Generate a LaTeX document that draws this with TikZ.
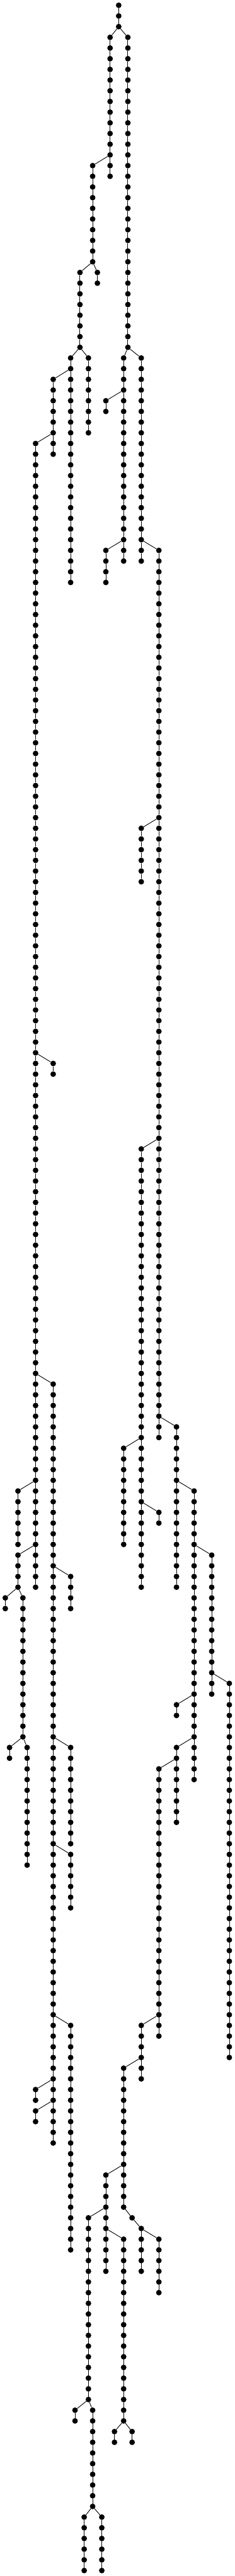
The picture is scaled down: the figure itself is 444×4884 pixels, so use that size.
\documentclass[tikz,border=0pt]{standalone}
\tikzset{
  dot/.style={circle,fill=black,draw=none,inner sep=0pt,minimum size=10.6pt},
  edge/.style={line width=1.1pt,black}
}
\newcommand\chainnodes[3]{%
  \foreach \r in {#2,...,#3}{%
    \node[dot] (n#1-\r) at ({#1/3},\r) {};
    \ifnum\r>#2\relax
      \pgfmathtruncatemacro\prevr{\r-1}%
      \draw[edge] (n#1-\prevr) -- (n#1-\r);
    \fi
  }}
\newcommand\linknodes[4]{\draw[edge] (n#1-#2) -- (n#3-#4);}
\begin{document}
\begin{tikzpicture}[x=1pt,y=-20.265pt]
\useasboundingbox (0pt,0pt) rectangle (444pt,-4884pt);
\begin{scope}[yshift=-10pt]
\chainnodes{674}{0}{2}
\chainnodes{625}{3}{16}
\chainnodes{726}{3}{32}
\chainnodes{526}{15}{24}
\chainnodes{454}{25}{32}
\chainnodes{553}{25}{26}
\chainnodes{401}{33}{54}
\chainnodes{502}{33}{40}
\chainnodes{302}{35}{42}
\chainnodes{702}{33}{52}
\chainnodes{601}{37}{38}
\chainnodes{802}{33}{52}
\chainnodes{202}{41}{148}
\chainnodes{601}{51}{54}
\chainnodes{902}{51}{134}
\chainnodes{802}{77}{82}
\chainnodes{302}{99}{100}
\chainnodes{802}{107}{148}
\chainnodes{302}{129}{200}
\chainnodes{102}{139}{144}
\chainnodes{702}{135}{144}
\chainnodes{1002}{133}{148}
\chainnodes{1102}{139}{166}
\chainnodes{102}{145}{148}
\chainnodes{30}{149}{150}
\chainnodes{130}{149}{162}
\chainnodes{401}{147}{150}
\chainnodes{902}{141}{142}
\chainnodes{1202}{145}{158}
\chainnodes{1302}{157}{192}
\chainnodes{1002}{159}{160}
\chainnodes{54}{163}{164}
\chainnodes{154}{163}{174}
\chainnodes{401}{163}{172}
\chainnodes{401}{173}{178}
\chainnodes{1002}{163}{170}
\chainnodes{902}{165}{190}
\chainnodes{401}{189}{210}
\chainnodes{202}{195}{196}
\chainnodes{202}{197}{198}
\chainnodes{802}{189}{194}
\chainnodes{702}{193}{206}
\chainnodes{601}{203}{212}
\chainnodes{750}{207}{207}
\chainnodes{802}{208}{212}
\chainnodes{902}{209}{214}
\chainnodes{502}{207}{224}
\chainnodes{702}{209}{226}
\chainnodes{426}{225}{226}
\chainnodes{526}{225}{234}
\chainnodes{478}{235}{240}
\chainnodes{578}{235}{240}
\chainnodes{650}{227}{228}
\chainnodes{750}{227}{228}
% branches
\linknodes{674}{2}{625}{3}
\linknodes{674}{2}{726}{3}
\linknodes{625}{14}{526}{15}
\linknodes{526}{24}{454}{25}
\linknodes{526}{24}{553}{25}
\linknodes{454}{32}{401}{33}
\linknodes{454}{32}{502}{33}
\linknodes{401}{34}{302}{35}
\linknodes{726}{32}{702}{33}
\linknodes{726}{32}{802}{33}
\linknodes{702}{36}{601}{37}
\linknodes{302}{40}{202}{41}
\linknodes{702}{50}{601}{51}
\linknodes{802}{50}{902}{51}
\linknodes{902}{76}{802}{77}
\linknodes{202}{98}{302}{99}
\linknodes{902}{106}{802}{107}
\linknodes{202}{128}{302}{129}
\linknodes{202}{138}{102}{139}
\linknodes{802}{134}{702}{135}
\linknodes{902}{132}{1002}{133}
\linknodes{1002}{138}{1102}{139}
\linknodes{202}{144}{102}{145}
\linknodes{102}{148}{30}{149}
\linknodes{102}{148}{130}{149}
\linknodes{302}{146}{401}{147}
\linknodes{802}{140}{902}{141}
\linknodes{1102}{144}{1202}{145}
\linknodes{1102}{158}{1002}{159}
\linknodes{1202}{156}{1302}{157}
\linknodes{130}{162}{54}{163}
\linknodes{130}{162}{154}{163}
\linknodes{302}{162}{401}{163}
\linknodes{302}{172}{401}{173}
\linknodes{1102}{162}{1002}{163}
\linknodes{1002}{164}{902}{165}
\linknodes{302}{188}{401}{189}
\linknodes{302}{194}{202}{195}
\linknodes{302}{196}{202}{197}
\linknodes{902}{188}{802}{189}
\linknodes{802}{192}{702}{193}
\linknodes{702}{202}{601}{203}
\linknodes{702}{206}{750}{207}
\linknodes{750}{207}{802}{208}
\linknodes{802}{208}{902}{209}
\linknodes{601}{206}{502}{207}
\linknodes{601}{208}{702}{209}
\linknodes{502}{224}{426}{225}
\linknodes{502}{224}{526}{225}
\linknodes{526}{234}{478}{235}
\linknodes{526}{234}{578}{235}
\linknodes{702}{226}{650}{227}
\linknodes{702}{226}{750}{227}
\end{scope}
\end{tikzpicture}
\end{document}
